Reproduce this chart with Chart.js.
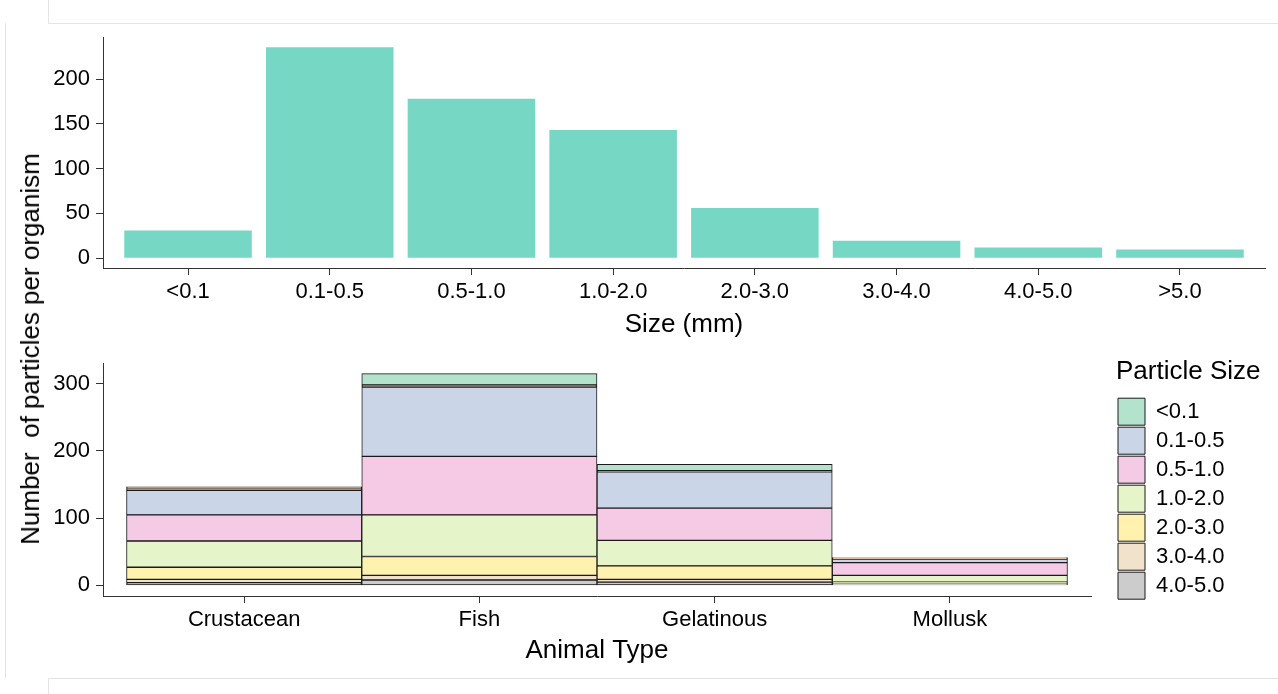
<!DOCTYPE html>
<html><head><meta charset="utf-8">
<script src="https://cdn.jsdelivr.net/npm/chart.js@4.4.1/dist/chart.umd.min.js"></script>
<style>
html,body{margin:0;padding:0;background:#fff;}
body{width:1278px;height:694px;position:relative;overflow:hidden;font-family:'Liberation Sans',Arial,sans-serif;}
canvas{position:absolute;left:0;}
#c1{top:0;}
#c2{top:340px;}
.fr{position:absolute;background:#e4e4e4;}
#ytitle{position:absolute;left:30px;top:349px;transform:translate(-50%,-50%) rotate(-90deg);font-size:26px;white-space:pre;color:#000;line-height:1;}
</style></head><body>
<div class="fr" style="left:48px;top:0;width:1px;height:23px"></div>
<div class="fr" style="left:48px;top:23px;width:1230px;height:1px"></div>
<div class="fr" style="left:5px;top:23px;width:1px;height:655px"></div>
<div class="fr" style="left:48px;top:678px;width:1230px;height:1px"></div>
<div class="fr" style="left:48px;top:678px;width:1px;height:16px"></div>
<canvas id="c1" width="1278" height="340"></canvas>
<canvas id="c2" width="1278" height="354"></canvas>
<div id="ytitle">Number  of particles per organism</div>
<script>
// ---- data: top chart ----
const sizeCats = ['<0.1','0.1-0.5','0.5-1.0','1.0-2.0','2.0-3.0','3.0-4.0','4.0-5.0','>5.0'];
const sizeVals = [31, 235.5, 178, 143, 56, 19.5, 12, 9.7];
const sizeTicks = [0, 50, 100, 150, 200];

// ---- data: bottom chart ----
const animals = ['Crustacean','Fish','Gelatinous','Mollusk'];
const countTicks = [0, 100, 200, 300];
const lt01   = [1.5, 17, 9.5, 1];
const gt50   = [3.5, 3, 1.5, 1.5];
const s01_05 = [36.5, 103, 54, 5];
const s05_10 = [39, 87, 48, 19];
const s10_20 = [39, 62, 38, 10];
const s20_30 = [18, 28, 20, 1.5];
const s30_40 = [5, 7, 4, 1];
const s40_50 = [4, 8, 5, 2.5];

Chart.defaults.font.family = "'Liberation Sans', Arial, sans-serif";
Chart.defaults.color = '#000';

const axisColor = '#333';
const tickFont = {size: 22};
const titleFont = {size: 26};

function yAxis(min, max, ticksArr) {
  return {
    type: 'linear', min: min, max: max,
    afterBuildTicks: s => { s.ticks = ticksArr.map(v => ({value: v})); },
    afterFit: s => { s.width = 103; },
    grid: {display: true, drawOnChartArea: false, drawTicks: true, tickLength: 7, color: axisColor},
    border: {display: true, color: axisColor, width: 1},
    ticks: {font: tickFont, padding: 6, color: '#000'}
  };
}
function xAxis(labels, height, titleText, titlePadBottom, stacked) {
  return {
    type: 'linear', min: 0.4, max: labels.length + 0.6, stacked: stacked, offset: false,
    afterBuildTicks: s => { s.ticks = labels.map((l, i) => ({value: i + 1})); },
    afterFit: s => { s.height = height; },
    grid: {display: true, offset: false, drawOnChartArea: false, drawTicks: true, tickLength: 7, color: axisColor},
    border: {display: true, color: axisColor, width: 1},
    ticks: {font: tickFont, padding: 4, autoSkip: false, maxRotation: 0, color: '#000',
      callback: v => labels[Math.round(v) - 1]},
    title: {display: true, text: titleText, font: titleFont, color: '#000', padding: {top: 0, bottom: titlePadBottom}}
  };
}

// ---- top chart ----
new Chart(document.getElementById('c1'), {
  type: 'bar',
  data: {
    datasets: [{
      label: 'Size',
      data: sizeCats.map((c, i) => ({x: i + 1, y: sizeVals[i]})),
      backgroundColor: '#76D7C4',
      borderWidth: 0,
      barPercentage: 0.9,
      categoryPercentage: 1
    }]
  },
  options: {
    responsive: false, animation: false,
    layout: {padding: {top: 37, right: 13, left: 0, bottom: 0}},
    plugins: {legend: {display: false}, tooltip: {enabled: false}},
    scales: {
      x: xAxis(sizeCats, 72, 'Size (mm)', 0, false),
      y: yAxis(-11, 247, sizeTicks)
    }
  }
});

// ---- bottom chart ----
const stackDefs = [
  {label: '4.0-5.0', vals: s40_50, color: '#CCCCCC'},
  {label: '3.0-4.0', vals: s30_40, color: '#F1E2CC'},
  {label: '2.0-3.0', vals: s20_30, color: '#FFF2AE'},
  {label: '1.0-2.0', vals: s10_20, color: '#E6F5C9'},
  {label: '0.5-1.0', vals: s05_10, color: '#F4CAE4'},
  {label: '0.1-0.5', vals: s01_05, color: '#CBD5E8'},
  {label: '>5.0',    vals: gt50,   color: '#FDCDAC'},
  {label: '<0.1',    vals: lt01,   color: '#B3E2CD'}
];

const legendShift = {
  id: 'legendShift',
  beforeLayout(chart) {
    const lg = chart.legend;
    if (lg && !lg._fixed) {
      const f = lg.fit;
      lg.fit = function () { f.call(this); this.width = 187; };
      lg._fixed = true;
    }
  },
  afterLayout(chart) {
    const lg = chart.legend;
    if (lg) { lg.left += 25; lg.top -= 10; }
  }
};

new Chart(document.getElementById('c2'), {
  type: 'bar',
  data: {
    datasets: stackDefs.map(d => ({
      label: d.label,
      data: animals.map((a, i) => ({x: i + 1, y: d.vals[i]})),
      backgroundColor: d.color,
      borderColor: '#1a1a1a',
      borderWidth: 1,
      borderSkipped: false,
      barPercentage: 1,
      categoryPercentage: 1
    }))
  },
  plugins: [legendShift],
  options: {
    responsive: false, animation: false,
    layout: {padding: {top: 23, right: 0, left: 0, bottom: 0}},
    plugins: {
      tooltip: {enabled: false},
      legend: {
        display: true, position: 'right', align: 'start',
        title: {display: true, text: 'Particle Size', position: 'start', font: titleFont, color: '#000', padding: {top: 6, bottom: 6}},
        labels: {
          boxWidth: 27, boxHeight: 27, padding: 2, font: {size: 22}, color: '#000',
          filter: item => item.text !== '>5.0',
          sort: (a, b) => b.datasetIndex - a.datasetIndex
        }
      }
    },
    scales: {
      x: xAxis(animals, 98, 'Animal Type', 28, true),
      y: Object.assign(yAxis(-15.75, 330.75, countTicks), {stacked: true})
    }
  }
});
</script>
</body></html>
